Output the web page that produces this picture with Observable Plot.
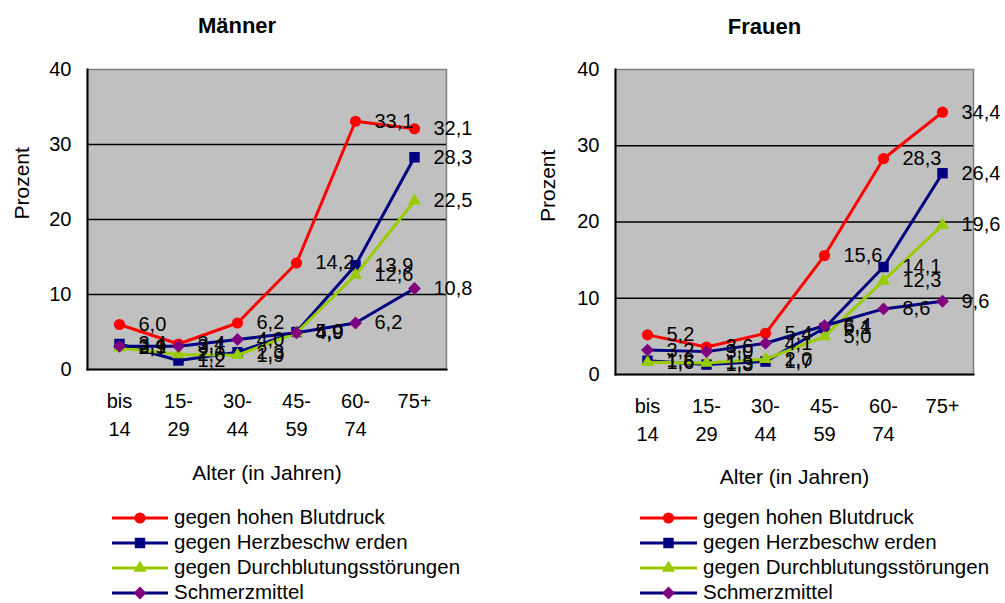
<!DOCTYPE html>
<html>
<head>
<meta charset="utf-8">
<script src="https://cdn.jsdelivr.net/npm/d3@7"></script>
<script src="https://cdn.jsdelivr.net/npm/@observablehq/plot@0.6"></script>
<style>
  html, body { margin: 0; padding: 0; background: #fff; }
  #root { position: relative; width: 1005px; height: 603px; overflow: hidden;
          font-family: "Liberation Sans", Arial, sans-serif; }
  #root > svg { position: absolute; top: 0; overflow: visible; }
</style>
</head>
<body>
<div id="root"></div>
<script>
// Age groups (x categories) and their two-line tick labels
const ages = ["bis 14", "15-29", "30-44", "45-59", "60-74", "75+"];
const ageTickLabels = ["bis\n14", "15-\n29", "30-\n44", "45-\n59", "60-\n74", "75+"];
const yTicks = [0, 10, 20, 30, 40];
const gridLines = [10, 20, 30];

// Series names
const seriesNames = [
  "gegen hohen Blutdruck",
  "gegen Herzbeschw erden",
  "gegen Durchblutungsstörungen",
  "Schmerzmittel"
];

// Männer, share in percent per age group
const blutdruckM   = [6.0, 3.4, 6.2, 14.2, 33.1, 32.1];
const herzM        = [3.4, 1.2, 2.3, 5.0, 13.9, 28.3];
const durchblutM   = [2.9, 2.0, 1.9, 4.9, 12.6, 22.5];
const schmerzM     = [3.1, 3.1, 4.0, 4.9, 6.2, 10.8];

// Frauen, share in percent per age group
const blutdruckF   = [5.2, 3.6, 5.4, 15.6, 28.3, 34.4];
const herzF        = [1.8, 1.3, 1.7, 6.1, 14.1, 26.4];
const durchblutF   = [1.6, 1.5, 2.0, 5.0, 12.3, 19.6];
const schmerzF     = [3.2, 3.0, 4.1, 6.4, 8.6, 9.6];

// Line colour, marker colour, marker symbol and size for each series
const seriesStyles = [
  {line: "#ff0000", marker: "#ff0000", symbol: "circle",   r: 5.6},
  {line: "#000080", marker: "#000080", symbol: "square",   r: 5.9},
  {line: "#99cc00", marker: "#99cc00", symbol: "triangle", r: 4.9},
  {line: "#000080", marker: "#800080", symbol: "diamond2", r: 5.8}
];
const d3Symbols = {circle: d3.symbolCircle, square: d3.symbolSquare, triangle: d3.symbolTriangle, diamond2: d3.symbolDiamond2};

const fmt = v => d3.format(".1f")(v).replace(".", ",");

function rowsFor(valuesBySeries) {
  return seriesNames.flatMap((name, k) =>
    ages.map((age, i) => ({age, value: valuesBySeries[k][i], series: name})));
}

function drawChart({title, values, left, width, height, marginLeft, marginRight, marginTop, marginBottom,
                    titleDx, titleDy, yTitleDx, xTitleDy}) {
  const data = rowsFor(values);
  const marks = [
    Plot.frame({fill: "#c0c0c0", stroke: "#808080", strokeWidth: 1.5}),
    Plot.ruleY(gridLines, {stroke: "#000", strokeWidth: 1.3}),
    Plot.frame({anchor: "left", stroke: "#000", strokeWidth: 2}),
    Plot.frame({anchor: "bottom", stroke: "#000", strokeWidth: 2}),
    Plot.axisY({ticks: yTicks, tickSize: 0, tickPadding: 16, label: null, fontSize: 20}),
    Plot.axisX({tickSize: 0, tickPadding: 19, label: null, fontSize: 20, lineHeight: 1.4,
                tickFormat: d => ageTickLabels[ages.indexOf(d)]})
  ];
  seriesNames.forEach((name, k) => {
    const s = seriesStyles[k];
    const d = data.filter(r => r.series === name);
    marks.push(Plot.line(d, {x: "age", y: "value", stroke: s.line, strokeWidth: 3}));
    marks.push(Plot.dot(d, {x: "age", y: "value", symbol: s.symbol, r: s.r, fill: s.marker}));
  });
  // value labels to the right of each marker
  marks.push(Plot.text(data, {x: "age", y: "value", text: d => fmt(d.value), dx: 19,
                              textAnchor: "start", fontSize: 20, fill: "#000"}));
  // chart title and axis titles
  marks.push(Plot.text([title], {text: d => d, frameAnchor: "top", lineAnchor: "middle",
                                 dx: titleDx, dy: titleDy, fontSize: 22, fontWeight: "bold"}));
  marks.push(Plot.text(["Prozent"], {text: d => d, frameAnchor: "left", lineAnchor: "middle",
                                     rotate: -90, dx: yTitleDx, fontSize: 21}));
  marks.push(Plot.text(["Alter (in Jahren)"], {text: d => d, frameAnchor: "bottom", lineAnchor: "middle",
                                               dy: xTitleDy, fontSize: 21}));

  const svg = Plot.plot({
    width, height, marginLeft, marginRight, marginTop, marginBottom,
    style: {fontFamily: "Liberation Sans, Arial, sans-serif", fontSize: "20px", background: "transparent", overflow: "visible"},
    x: {type: "point", domain: ages, padding: 0.5},
    y: {domain: [0, 40]},
    marks
  });
  svg.style.left = left + "px";
  document.getElementById("root").appendChild(svg);
}

drawChart({
  title: "Männer", values: [blutdruckM, herzM, durchblutM, schmerzM],
  left: 0, width: 502, height: 500,
  marginLeft: 87, marginRight: 56, marginTop: 69, marginBottom: 131,
  titleDx: -30, titleDy: -44, yTitleDx: -65, xTitleDy: 104
});
drawChart({
  title: "Frauen", values: [blutdruckF, herzF, durchblutF, schmerzF],
  left: 502, width: 503, height: 500,
  marginLeft: 113, marginRight: 32, marginTop: 69, marginBottom: 126,
  titleDx: -30, titleDy: -43, yTitleDx: -67, xTitleDy: 103
});

// Legends below each chart
const legend = d3.select("#root").append("svg")
  .attr("width", 1005).attr("height", 103)
  .style("position", "absolute").style("left", "0px").style("top", "500px")
  .style("font-family", "Liberation Sans, Arial, sans-serif");
[{x0: 112, x1: 168}, {x0: 640, x1: 697}].forEach(pos => {
  seriesNames.forEach((name, k) => {
    const s = seriesStyles[k];
    const y = 18 + k * 25;
    const g = legend.append("g");
    g.append("line").attr("x1", pos.x0).attr("x2", pos.x1).attr("y1", y).attr("y2", y)
      .attr("stroke", s.line).attr("stroke-width", 3);
    g.append("path").attr("transform", `translate(${(pos.x0 + pos.x1) / 2},${y})`)
      .attr("d", d3.symbol(d3Symbols[s.symbol], Math.PI * s.r * s.r)())
      .attr("fill", s.marker);
    g.append("text").attr("x", pos.x1 + 6).attr("y", y + 5.5)
      .attr("font-size", 20.5).attr("fill", "#000").text(name);
  });
});
</script>
</body>
</html>
